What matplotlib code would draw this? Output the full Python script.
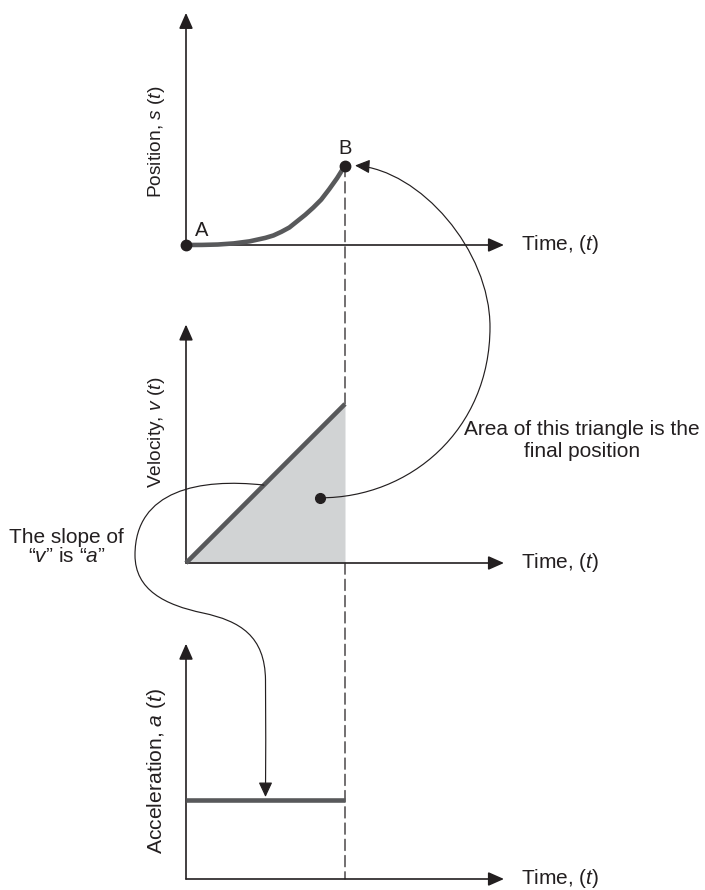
import matplotlib
matplotlib.use('Agg')
import matplotlib.pyplot as plt
from matplotlib.patches import FancyArrowPatch, ConnectionPatch
from matplotlib.path import Path

plt.rcParams['font.family'] = ['Liberation Sans', 'DejaVu Sans']
plt.rcParams['mathtext.fontset'] = 'custom'
plt.rcParams['mathtext.rm'] = 'Liberation Sans'
plt.rcParams['mathtext.it'] = 'Liberation Sans:italic'

# ---------------- data ----------------
t_pos = [0, 0.1, 0.2, 0.3, 0.4, 0.5, 0.55, 0.6, 0.65, 0.7, 0.75, 0.8, 0.85, 0.9, 0.95, 1.0]
s_pos = [0, 0.0005, 0.003, 0.01, 0.023, 0.045, 0.06, 0.083, 0.11, 0.15, 0.19, 0.235,
         0.285, 0.35, 0.42, 0.5]
t_vel = [0, 1.0]
v_vel = [0, 1.0]
t_acc = [0, 1.0]
a_acc = [0.5, 0.5]
area_dot = (0.845, 0.41)
y_labels = ['Position, $s$ ($t$)', 'Velocity, $v$ ($t$)', 'Acceleration, $a$ ($t$)']
x_label = 'Time, ($t$)'
area_text = 'Area of this triangle is the\nfinal position'
slope_text = 'The slope of\n\u201c$v$\u201d is \u201c$a$\u201d'

# ---------------- style ----------------
W, H = 705, 890
unit = 159
x0 = 186
origins = [245, 563, 879]
ytops = [1.46, 1.50, 1.48]
ink = '#231f20'
curve_c = '#58595b'
fill_c = '#d1d3d4'
fs = 15          # horizontal texts
fs_y = 13.8      # rotated axis titles
fs_pt = 14.5     # point labels A / B

fig = plt.figure(figsize=(W / 100, H / 100), dpi=100)
fig.patch.set_facecolor('white')

axes = []
for oy in origins:
    ax = fig.add_axes([x0 / W, (H - oy) / H, 2 * unit / W, 1.5 * unit / H])
    ax.set_xlim(0, 2)
    ax.set_ylim(0, 1.5)
    ax.axis('off')
    axes.append(ax)
ax_s, ax_v, ax_a = axes

axis_style = dict(arrowstyle='-|>,head_length=0.95,head_width=0.42', lw=1.2,
                  color=ink, shrinkA=0, shrinkB=0, mutation_scale=10)
for ax, yt in zip(axes, ytops):
    ax.annotate('', xy=(2.0, 0), xytext=(0, 0), arrowprops=axis_style, annotation_clip=False)
    ax.annotate('', xy=(0, yt), xytext=(0, 0), arrowprops=axis_style, annotation_clip=False)
    ax.text(2.105, 0, x_label, ha='left', va='center', fontsize=fs, color=ink)

ax_s.text(-0.185, 0.65, y_labels[0], rotation=90, ha='center', va='center', fontsize=fs_y, color=ink)
ax_v.text(-0.185, 0.82, y_labels[1], rotation=90, ha='center', va='center', fontsize=fs_y, color=ink)
ax_a.text(-0.185, 0.68, y_labels[2], rotation=90, ha='center', va='center', fontsize=fs_y * 1.1, color=ink)

# position curve
ax_s.plot(t_pos, s_pos, color=curve_c, lw=3.3, solid_capstyle='butt', solid_joinstyle='round',
          clip_on=False, zorder=3)
ax_s.plot([t_pos[0]], [s_pos[0]], 'o', ms=7.5, color=ink, clip_on=False, zorder=4)
ax_s.plot([t_pos[-1]], [s_pos[-1]], 'o', ms=7.5, color=ink, clip_on=False, zorder=4)
ax_s.text(0.10, 0.094, 'A', ha='center', va='center', fontsize=fs_pt, color=ink)
ax_s.text(1.0, 0.61, 'B', ha='center', va='center', fontsize=fs_pt, color=ink)

# velocity
ax_v.fill_between(t_vel, 0, v_vel, color=fill_c, lw=0, zorder=1)
ax_v.plot(t_vel, v_vel, color=curve_c, lw=3.3, solid_capstyle='butt', clip_on=False, zorder=3)
ax_v.plot([area_dot[0]], [area_dot[1]], 'o', ms=7, color=ink, zorder=4)
ax_v.text(2.49, 0.77, area_text, ha='center', va='center', multialignment='center',
          fontsize=fs, color=ink, linespacing=1.15)
ax_v.text(-0.75, 0.10, slope_text, ha='center', va='center', multialignment='center',
          fontsize=fs, color=ink, linespacing=1.05)

# acceleration
ax_a.plot(t_acc, a_acc, color=curve_c, lw=3.3, solid_capstyle='butt', clip_on=False, zorder=3)

# dashed guide at t final
dash = dict(linestyle=(0, (9, 4)), lw=0.9, color=ink, zorder=0.5)
c1 = ConnectionPatch(xyA=(t_pos[-1], s_pos[-1]), coordsA=ax_s.transData,
                     xyB=(t_vel[-1], v_vel[-1]), coordsB=ax_v.transData, **dash)
c1.set_clip_on(False)
ax_s.add_artist(c1)
c2 = ConnectionPatch(xyA=(t_vel[-1], 0), coordsA=ax_v.transData,
                     xyB=(t_acc[-1], 0), coordsB=ax_a.transData, **dash)
c2.set_clip_on(False)
ax_v.add_artist(c2)

# overlay for the curved annotation arrows (pixel coords)
ov = fig.add_axes([0, 0, 1, 1])
ov.set_xlim(0, W)
ov.set_ylim(H, 0)
ov.axis('off')


def px(ax, xy):
    d = ax.transData.transform(xy)
    return (d[0], H - d[1])


ann_style = dict(arrowstyle='-|>,head_length=0.9,head_width=0.42', lw=0.85,
                 color=ink, mutation_scale=10, shrinkA=0, shrinkB=0)

p0 = px(ax_v, area_dot)
pb = px(ax_s, (t_pos[-1], s_pos[-1]))
pend = (pb[0] + 10, pb[1])
verts = [p0, (410, 498), (490, 430), (490, 327),
         (490, 250), (420, 170), pend]
codes = [Path.MOVETO] + [Path.CURVE4] * 6
ov.add_patch(FancyArrowPatch(path=Path(verts, codes), **ann_style))

q0 = px(ax_v, (0.49, 0.49))
qa = px(ax_a, (0.5, a_acc[0]))
qend = (qa[0], qa[1] - 2.5)
verts2 = [q0, (200, 478), (135, 490), (135, 555),
          (135, 590), (165, 605), (203, 613),
          (240, 621), (265, 636), (265.5, 680),
          (266, 720), (qend[0], 760), qend]
codes2 = [Path.MOVETO] + [Path.CURVE4] * 12
ov.add_patch(FancyArrowPatch(path=Path(verts2, codes2), **ann_style))

fig.savefig('out.png', dpi=100, facecolor='white')
